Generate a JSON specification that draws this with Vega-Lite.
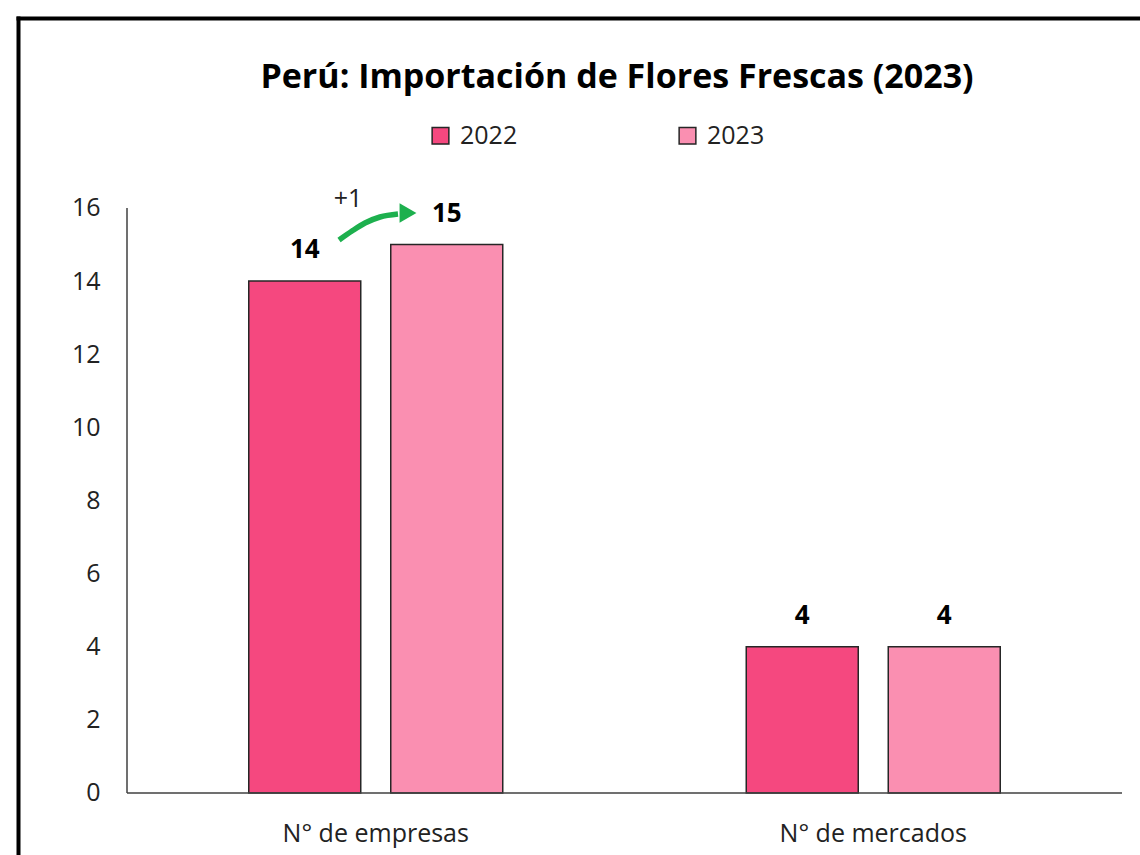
{
  "$schema": "https://vega.github.io/schema/vega-lite/v6.json",
  "width": 1122,
  "height": 837,
  "autosize": "none",
  "padding": {"left": 18, "top": 18, "right": 0, "bottom": 0},
  "background": "white",
  "title": {
    "text": "Perú: Importación de Flores Frescas (2023)",
    "anchor": "middle",
    "frame": "group",
    "dx": 38,
    "offset": -104,
    "fontSize": 34,
    "font": "Open Sans",
    "fontWeight": "bold",
    "color": "#000000",
    "baseline": "alphabetic"
  },
  "datasets": {
    "barras": [
      {"categoria": "N° de empresas", "anio": "2022", "valor": 14},
      {"categoria": "N° de empresas", "anio": "2023", "valor": 15},
      {"categoria": "N° de mercados", "anio": "2022", "valor": 4},
      {"categoria": "N° de mercados", "anio": "2023", "valor": 4}
    ],
    "flecha": [
      {"px": 0.42613, "py": 15.1248},
      {"px": 0.45226, "py": 15.3709},
      {"px": 0.47839, "py": 15.5897},
      {"px": 0.50854, "py": 15.7538},
      {"px": 0.54472, "py": 15.8359}
    ],
    "punta": [{"px": 0.56482, "py": 15.8632}],
    "nota": [{"px": 0.4442, "py": 16.246, "texto": "+1"}]
  },
  "layer": [
    {
      "data": {"name": "barras"},
      "layer": [
        {
          "mark": {"type": "bar", "stroke": "#262626", "strokeWidth": 1.5},
          "encoding": {
            "x": {
              "field": "categoria", "type": "nominal", "title": null,
              "sort": ["N° de empresas", "N° de mercados"],
              "scale": {"paddingInner": 0, "paddingOuter": 0.12764, "align": 0.85827},
              "axis": {"orient": "bottom", "offset": -62, "domain": false, "ticks": false, "labelPadding": 28, "labelFontSize": 25, "labelFont": "Open Sans", "labelColor": "#222222", "labelAngle": 0, "labelLimit": 0, "title": null}
            },
            "xOffset": {"field": "anio", "type": "nominal", "scale": {"paddingInner": 0.2113, "paddingOuter": 0.8574}},
            "y": {
              "field": "valor", "type": "quantitative", "title": null,
              "scale": {"domain": [-1.69573, 21.19658], "nice": false, "zero": false},
              "axis": {"orient": "left", "offset": -109, "domain": false, "ticks": false, "grid": false, "values": [0, 2, 4, 6, 8, 10, 12, 14, 16], "labelPadding": 27, "labelFontSize": 25, "labelFont": "Open Sans", "labelColor": "#222222", "title": null}
            },
            "y2": {"datum": 0},
            "color": {
              "field": "anio", "type": "nominal", "title": null,
              "scale": {"domain": ["2022", "2023"], "range": ["#F5487F", "#FA8FB1"]},
              "legend": {"orient": "none", "legendX": 410, "legendY": 105, "direction": "horizontal", "columns": 2, "columnPadding": 157, "title": null, "symbolType": "square", "symbolSize": 280, "symbolStrokeColor": "#262626", "symbolStrokeWidth": 1.5, "labelFontSize": 25, "labelFont": "Open Sans", "labelColor": "#222222", "labelOffset": 7, "padding": 0}
            }
          }
        },
        {
          "mark": {"type": "text", "dy": -23, "baseline": "alphabetic", "fontSize": 26, "fontWeight": "bold", "font": "Open Sans", "color": "#000000"},
          "encoding": {
            "x": {"field": "categoria", "type": "nominal", "title": null, "sort": ["N° de empresas", "N° de mercados"]},
            "xOffset": {"field": "anio", "type": "nominal"},
            "y": {"field": "valor", "type": "quantitative", "title": null},
            "text": {"field": "valor", "type": "quantitative"}
          }
        }
      ]
    },
    {
      "layer": [
        {
          "data": {"values": [{}]},
          "mark": {"type": "rule", "color": "#404040", "strokeWidth": 1.5},
          "encoding": {
            "x": {"datum": 0, "type": "quantitative", "scale": {"domain": [-0.2191, 2.03618], "nice": false, "zero": false}, "axis": {"orient": "top", "domain": true, "domainColor": "#000000", "domainWidth": 4, "domainCap": "square", "ticks": false, "labels": false, "grid": false, "title": null, "offset": 0}},
            "y": {"datum": 0, "type": "quantitative", "scale": {"domain": [-1.69573, 21.19658], "nice": false, "zero": false}, "axis": {"orient": "left", "domain": true, "domainColor": "#000000", "domainWidth": 4, "domainCap": "square", "ticks": false, "labels": false, "grid": false, "title": null, "offset": 0}},
            "y2": {"datum": 16}
          }
        },
        {
          "data": {"values": [{}]},
          "mark": {"type": "rule", "color": "#404040", "strokeWidth": 1.5},
          "encoding": {
            "x": {"datum": 0, "type": "quantitative"},
            "x2": {"datum": 2},
            "y": {"datum": 0, "type": "quantitative"}
          }
        },
        {
          "data": {"name": "flecha"},
          "mark": {"type": "line", "color": "#1DB04E", "strokeWidth": 5.5, "interpolate": "monotone", "strokeCap": "butt"},
          "encoding": {
            "x": {"field": "px", "type": "quantitative"},
            "y": {"field": "py", "type": "quantitative"}
          }
        },
        {
          "data": {"name": "punta"},
          "mark": {"type": "point", "shape": "triangle-right", "filled": true, "size": 380, "color": "#1DB04E", "opacity": 1},
          "encoding": {
            "x": {"field": "px", "type": "quantitative"},
            "y": {"field": "py", "type": "quantitative"}
          }
        },
        {
          "data": {"name": "nota"},
          "mark": {"type": "text", "baseline": "middle", "fontSize": 25, "font": "Open Sans", "color": "#222222"},
          "encoding": {
            "x": {"field": "px", "type": "quantitative"},
            "y": {"field": "py", "type": "quantitative"},
            "text": {"field": "texto"}
          }
        }
      ]
    }
  ],
  "resolve": {"scale": {"x": "independent", "y": "independent"}, "axis": {"x": "independent", "y": "independent"}},
  "config": {
    "view": {"stroke": null},
    "axis": {"grid": false},
    "font": "Open Sans"
  }
}
